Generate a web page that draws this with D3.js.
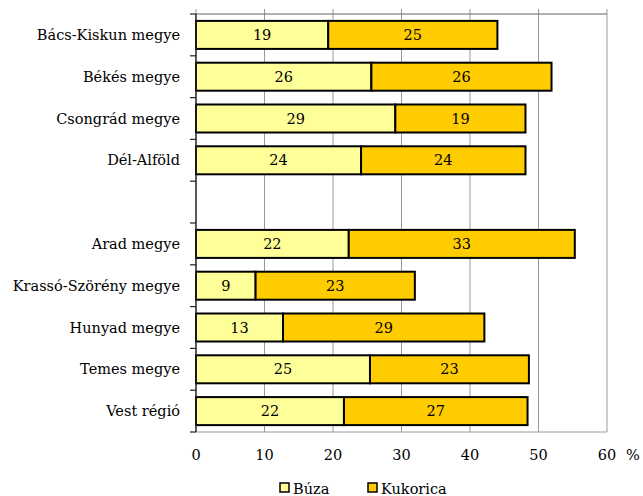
<!DOCTYPE html>
<html><head><meta charset="utf-8">
<script src="https://cdn.jsdelivr.net/npm/d3@7"></script>
<style>body{margin:0;background:#fff}svg{display:block}</style>
</head><body><svg id="c" width="643" height="496"></svg>
<script>
const categories = ["Bács-Kiskun megye","Békés megye","Csongrád megye","Dél-Alföld","","Arad megye","Krassó-Szörény megye","Hunyad megye","Temes megye","Vest régió"];
const buza =     [19.3, 25.6, 29.1, 24.1, null, 22.3, 8.7, 12.7, 25.4, 21.6];
const kukorica = [24.7, 26.3, 19.0, 24.0, null, 33.0, 23.25, 29.4, 23.2, 26.8];
const xTicks = [0,10,20,30,40,50,60];
const seriesNames = ["Búza","Kukorica"];
const colors = ["#FFFF99","#FFCC00"];

const svg = d3.select("#c");
const font = "DejaVu Serif";
const fs = 14.5;
const m = {l:196, r:607, t:14, b:432};
const x = d3.scaleLinear().domain([0,60]).range([m.l, m.r]);
const keys = categories.map((c,i)=>i);
const y = d3.scaleBand().domain(keys).range([m.t, m.b]).paddingInner(0.33).paddingOuter(0.165);
const yb = d3.scaleBand().domain(keys).range([m.t, m.b]);

svg.append("g").selectAll("line").data(xTicks.slice(1)).join("line")
  .attr("x1",d=>x(d)).attr("x2",d=>x(d)).attr("y1",m.t-5).attr("y2",m.b)
  .attr("stroke","#999").attr("stroke-width",1);
svg.append("line").attr("x1",x(0)).attr("x2",x(0)).attr("y1",m.t-5).attr("y2",m.t).attr("stroke","#999");
svg.append("line").attr("x1",m.l).attr("x2",m.r).attr("y1",m.t).attr("y2",m.t).attr("stroke","#666").attr("stroke-width",1.2);
svg.append("line").attr("x1",m.l).attr("x2",m.r).attr("y1",m.b).attr("y2",m.b).attr("stroke","#999").attr("stroke-width",1.2);

const rows = categories.map((c,i)=>({i, b:buza[i], k:kukorica[i]})).filter(d=>d.b!=null);
const g = svg.append("g");
rows.forEach(d=>{
  const segs = [{v0:0, v1:d.b, c:colors[0]}, {v0:d.b, v1:d.b+d.k, c:colors[1]}];
  segs.forEach(s=>{
    g.append("rect").attr("x",x(s.v0)).attr("y",y(d.i)).attr("width",x(s.v1)-x(s.v0)).attr("height",y.bandwidth())
      .attr("fill",s.c).attr("stroke","#000").attr("stroke-width",2);
    g.append("text").attr("x",(x(s.v0)+x(s.v1))/2).attr("y",y(d.i)+y.bandwidth()/2).attr("dy","0.35em")
      .attr("text-anchor","middle").attr("font-family",font).attr("font-size",fs).attr("fill","#000")
      .text(Math.round(s.v1-s.v0));
  });
});

svg.append("line").attr("x1",m.l).attr("x2",m.l).attr("y1",m.t).attr("y2",m.b).attr("stroke","#222").attr("stroke-width",1.5);
const bounds = keys.map(k=>yb(k)).concat([m.b]);
svg.append("g").selectAll("line").data(bounds).join("line")
  .attr("x1",m.l-6).attr("x2",m.l).attr("y1",d=>d).attr("y2",d=>d).attr("stroke","#222").attr("stroke-width",1.2);
svg.append("g").selectAll("text").data(keys).join("text")
  .attr("x",m.l-16).attr("y",k=>yb(k)+yb.bandwidth()/2).attr("dy","0.35em")
  .attr("text-anchor","end").attr("font-family",font).attr("font-size",fs).attr("fill","#000")
  .text(k=>categories[k]);

svg.append("g").selectAll("text").data(xTicks).join("text")
  .attr("x",d=>x(d)).attr("y",460).attr("text-anchor","middle").attr("font-family",font).attr("font-size",fs)
  .text(d=>d);
svg.append("text").attr("x",633).attr("y",460).attr("text-anchor","middle").attr("font-family",font).attr("font-size",fs).text("%");

const lx = [280, 368];
seriesNames.forEach((n,i)=>{
  svg.append("rect").attr("x",lx[i]).attr("y",483).attr("width",9).attr("height",9).attr("fill",colors[i]).attr("stroke","#000").attr("stroke-width",1.5);
  svg.append("text").attr("x",lx[i]+13).attr("y",494).attr("font-family",font).attr("font-size",fs).text(n);
});
</script></body></html>
